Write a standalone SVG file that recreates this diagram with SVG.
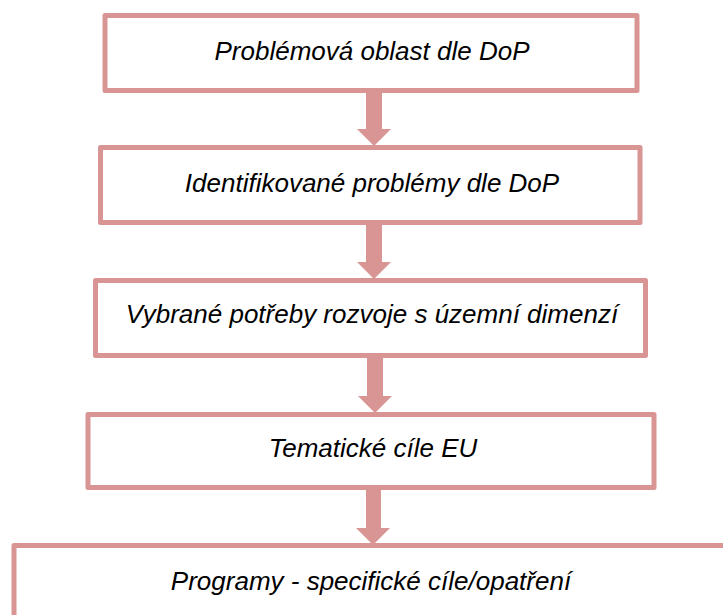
<svg xmlns="http://www.w3.org/2000/svg" width="723" height="615" viewBox="0 0 723 615">
<style>
.box{fill:#ffffff;stroke:#d99594;stroke-width:5;stroke-linejoin:round}
.lbl{font-family:"Liberation Sans",Arial,sans-serif;font-style:italic;font-size:26px;fill:#000000;text-anchor:middle}
.arr{fill:#d99594;stroke:none}
</style>
<rect width="723" height="615" fill="#ffffff"/>
<g id="connectors">
<polygon class="arr" points="366,90 382,90 382,129 391,129 374,146 357,129 366,129"/>
<polygon class="arr" points="366,224 382,224 382,262 391,262 374,279 357,262 366,262"/>
<polygon class="arr" points="367,357 383,357 383,396 392,396 375,413 358,396 367,396"/>
<polygon class="arr" points="366,490 381,490 381,528 390,528 373,545 356,528 366,528"/>
</g>
<g id="n1">
<rect class="box" x="105" y="15.5" width="532" height="75"/>
<text class="lbl" x="372" y="60">Problémová oblast dle DoP</text>
</g>
<g id="n2">
<rect class="box" x="100.5" y="147.5" width="539.5" height="75"/>
<text class="lbl" x="372" y="192">Identifikované problémy dle DoP</text>
</g>
<g id="n3">
<rect class="box" x="95.5" y="280.5" width="550" height="75"/>
<text class="lbl" x="372" y="323">Vybrané potřeby rozvoje s územní dimenzí</text>
</g>
<g id="n4">
<rect class="box" x="88" y="414.5" width="566" height="73"/>
<text class="lbl" x="373" y="457">Tematické cíle EU</text>
</g>
<g id="n5">
<rect class="box" x="14" y="545.5" width="714" height="75"/>
<text class="lbl" x="371" y="590">Programy - specifické cíle/opatření</text>
</g>
</svg>
